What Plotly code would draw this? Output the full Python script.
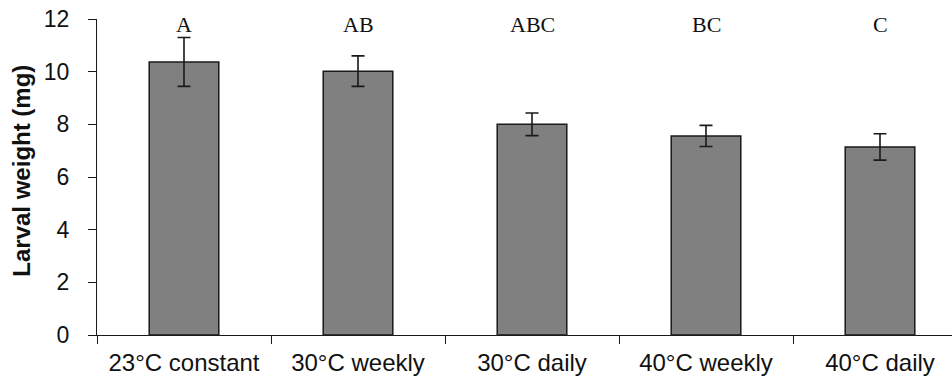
import plotly.graph_objects as go

# Larval weight by temperature regime
treatments = ["23°C constant", "30°C weekly", "30°C daily", "40°C weekly", "40°C daily"]
weight_mg = [10.37, 10.02, 8.0, 7.56, 7.14]
error_mg = [0.93, 0.58, 0.43, 0.40, 0.50]
group_letters = ["A", "AB", "ABC", "BC", "C"]
y_ticks = [0, 2, 4, 6, 8, 10, 12]

W, H = 952, 381
left, right, top, bottom = 97, 0, 19, 46
plot_w = W - left - right

fig = go.Figure()
fig.add_trace(go.Bar(
    x=treatments,
    y=weight_mg,
    width=0.4,
    marker=dict(color="#808080", line=dict(color="#1a1a1a", width=1.5)),
    error_y=dict(type="data", array=error_mg, visible=True,
                 color="#1a1a1a", thickness=1.6, width=6.5),
))

# significance letters above each bar
for t, lab in zip(treatments, group_letters):
    fig.add_annotation(x=t, y=11.8, xref="x", yref="y", text=lab,
                       showarrow=False, yanchor="middle",
                       font=dict(family="Liberation Serif, Times New Roman, serif",
                                 size=22, color="#111111"))

# y-axis title
fig.add_annotation(x=(22 - left) / plot_w, y=0.52, xref="paper", yref="paper",
                   text="<b>Larval weight (mg)</b>", textangle=-90,
                   showarrow=False, xanchor="center", yanchor="middle",
                   font=dict(family="Liberation Sans, Arial, sans-serif",
                             size=24, color="#111111"))

fig.update_layout(
    width=W, height=H,
    margin=dict(l=left, r=right, t=top, b=bottom, autoexpand=False),
    paper_bgcolor="white", plot_bgcolor="white",
    showlegend=False,
    font=dict(family="Liberation Sans, Arial, sans-serif", size=24, color="#111111"),
    xaxis=dict(
        type="category",
        range=[-0.5, -0.5 + 5 * plot_w / 870],
        showline=True, linecolor="#1a1a1a", linewidth=1.3,
        ticks="outside", ticklen=8, tickcolor="#1a1a1a", tickwidth=1.3,
        tickson="boundaries", showgrid=False, zeroline=False,
        ticklabelstandoff=6,
        automargin=False,
    ),
    yaxis=dict(
        range=[0, 12], tickvals=y_ticks,
        showline=True, linecolor="#1a1a1a", linewidth=1.3,
        ticks="outside", ticklen=8, tickcolor="#1a1a1a", tickwidth=1.3,
        showgrid=False, zeroline=False,
        ticklabelstandoff=14,
        automargin=False,
        tickfont=dict(size=23),
    ),
)

fig.write_html("out.html")
